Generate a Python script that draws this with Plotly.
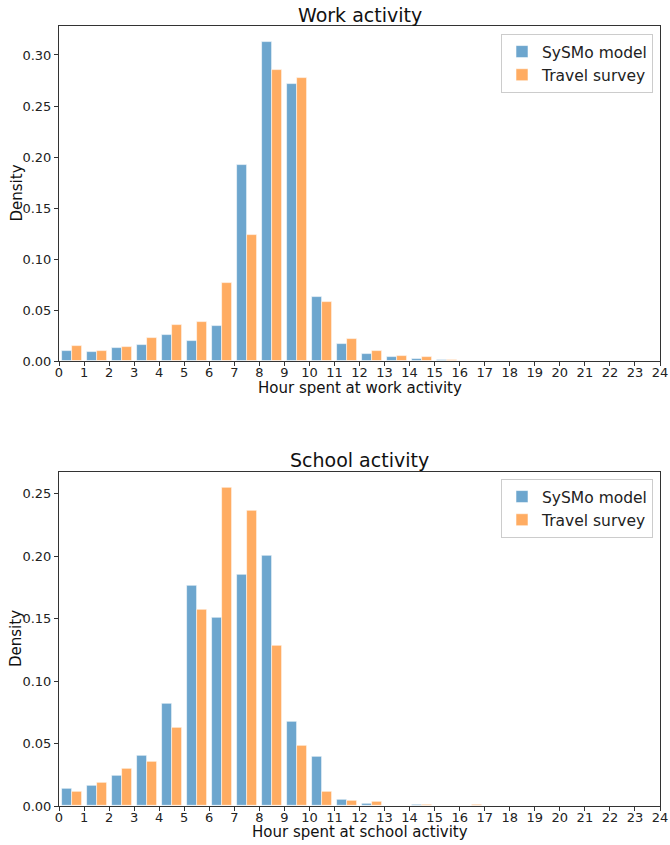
import plotly.graph_objects as go

# Hour bins (start of each one-hour bin)
hours = list(range(24))

# Work activity densities
work_model = [0.0105, 0.0092, 0.0128, 0.0157, 0.0255, 0.0203, 0.0347, 0.1927, 0.3127,
              0.2715, 0.0625, 0.0171, 0.0076, 0.0043, 0.0020, 0.0010, 0.0, 0.0,
              0.0, 0.0, 0.0, 0.0, 0.0, 0.0]
work_survey = [0.0150, 0.0105, 0.0140, 0.0226, 0.0357, 0.0386, 0.0769, 0.1240, 0.2850,
               0.2777, 0.0582, 0.0214, 0.0105, 0.0056, 0.0043, 0.0010, 0.0003, 0.0,
               0.0, 0.0, 0.0, 0.0, 0.0, 0.0]

# School activity densities
school_model = [0.0141, 0.0160, 0.0240, 0.0400, 0.0817, 0.1760, 0.1507, 0.1853, 0.2000,
                0.0671, 0.0394, 0.0053, 0.0021, 0.0, 0.0010, 0.0, 0.0, 0.0,
                0.0, 0.0, 0.0, 0.0, 0.0, 0.0]
school_survey = [0.0112, 0.0186, 0.0296, 0.0357, 0.0628, 0.1568, 0.2548, 0.2364, 0.1286,
                 0.0482, 0.0112, 0.0045, 0.0035, 0.0, 0.0013, 0.0, 0.0008, 0.0,
                 0.0, 0.0, 0.0, 0.0, 0.0, 0.0]

series_names = ["SySMo model", "Travel survey"]
tick_values = list(range(25))

BLUE = "rgba(31,119,180,0.65)"
ORANGE = "rgba(255,127,14,0.65)"
FONT = "DejaVu Sans"

fig = go.Figure()

panels = [
    ("x", "y", "legend", work_model, work_survey),
    ("x2", "y2", "legend2", school_model, school_survey),
]
for xa, ya, lg, model, survey in panels:
    for name, vals, color, off in [(series_names[0], model, BLUE, 0.1),
                                   (series_names[1], survey, ORANGE, 0.5)]:
        fig.add_trace(go.Bar(
            x=hours, y=vals, width=0.4, offset=off, name=name,
            marker=dict(color=color, line=dict(color="rgba(255,255,255,0.7)", width=0.8)),
            xaxis=xa, yaxis=ya, legend=lg, hoverinfo="skip",
        ))

axis_common = dict(
    showline=True, linecolor="#333", linewidth=1, mirror=True, automargin=False,
    ticks="outside", ticklen=4, tickcolor="#333", showgrid=False, zeroline=False,
    tickfont=dict(family=FONT, size=13, color="#222"),
)
x_common = dict(range=[0, 24], tickvals=tick_values, ticklabelstandoff=-5, **axis_common)

top_max = max(work_model + work_survey) * 1.05
bot_max = max(school_model + school_survey) * 1.05

W, H = 670, 845
M_L, M_R, M_T, M_B = 59, 10, 26, 39
plot_w = W - M_L - M_R
plot_h = H - M_T - M_B


def px_x(px):
    return (px - M_L) / plot_w


def px_y(py):
    return (H - M_B - py) / plot_h


fig.update_layout(
    width=W, height=H,
    margin=dict(l=M_L, r=M_R, t=M_T, b=M_B, autoexpand=False),
    plot_bgcolor="white", paper_bgcolor="white",
    barmode="overlay", bargap=0,
    font=dict(family=FONT, color="#222"),
    xaxis=dict(domain=[0, 1], anchor="y", **x_common),
    yaxis=dict(domain=[px_y(361.3), 1], anchor="x", range=[0, top_max],
               tickvals=[0, 0.05, 0.10, 0.15, 0.20, 0.25, 0.30], tickformat=".2f",
               **axis_common),
    xaxis2=dict(domain=[0, 1], anchor="y2", **x_common),
    yaxis2=dict(domain=[0, px_y(471.7)], anchor="x2", range=[0, bot_max],
                tickvals=[0, 0.05, 0.10, 0.15, 0.20, 0.25], tickformat=".2f",
                **axis_common),
    legend=dict(x=px_x(653), y=px_y(34), xanchor="right", yanchor="top",
                bgcolor="rgba(255,255,255,0.8)", bordercolor="#ccc", borderwidth=1,
                font=dict(size=15.5, family=FONT), tracegroupgap=0),
    legend2=dict(x=px_x(653), y=px_y(479), xanchor="right", yanchor="top",
                 bgcolor="rgba(255,255,255,0.8)", bordercolor="#ccc", borderwidth=1,
                 font=dict(size=15.5, family=FONT), tracegroupgap=0),
)

# Panel titles and axis titles, placed by pixel position
labels = [
    ("Work activity", 359.5, 15, 19, 0),
    ("School activity", 359.5, 460, 19, 0),
    ("Hour spent at work activity", 359.5, 387.5, 15, 0),
    ("Hour spent at school activity", 359.5, 831.5, 15, 0),
    ("Density", 16, 193.5, 15, -90),
    ("Density", 16, 639, 15, -90),
]
for text, cx, cy, size, angle in labels:
    fig.add_annotation(text=text, x=px_x(cx), y=px_y(cy), xref="paper", yref="paper",
                       xanchor="center", yanchor="middle", showarrow=False, textangle=angle,
                       font=dict(size=size, family=FONT, color="#111"))

fig.write_html("out.html")
